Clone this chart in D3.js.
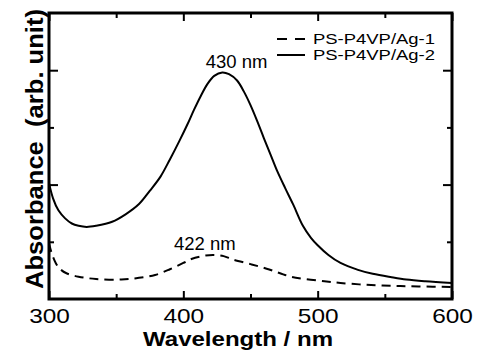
<!DOCTYPE html>
<html>
<head>
<meta charset="utf-8">
<script src="https://cdn.jsdelivr.net/npm/d3@7"></script>
<style>
  body { margin: 0; background: #fff; }
  svg { display: block; font-family: Arial, "Liberation Sans", sans-serif; }
</style>
</head>
<body>
<div id="chart"></div>
<script>
// Ag-1 (dashed) and Ag-2 (solid) absorbance
const wl1 = [300, 302, 305, 308, 313, 322, 335, 354, 367, 379, 390, 400, 406, 414, 422, 430, 437, 450, 462, 472, 480, 490, 505, 517, 535, 555, 575, 600];
const abs1 = [0.98, 0.80, 0.63, 0.53, 0.45, 0.39, 0.35, 0.34, 0.37, 0.42, 0.52, 0.63, 0.70, 0.75, 0.77, 0.75, 0.69, 0.61, 0.53, 0.45, 0.39, 0.35, 0.31, 0.28, 0.25, 0.23, 0.22, 0.21];

const wl2 = [300, 303, 307, 312, 317, 322, 328, 335, 347, 357, 367, 375, 383, 390, 397, 403, 408, 413, 418, 423, 429, 434, 440, 445, 450, 455, 460, 465, 470, 476, 482, 489, 495, 500, 508, 517, 530, 541, 555, 566, 580, 600];
const abs2 = [2.03, 1.76, 1.55, 1.41, 1.32, 1.28, 1.26, 1.28, 1.35, 1.48, 1.66, 1.89, 2.14, 2.44, 2.76, 3.05, 3.31, 3.55, 3.76, 3.90, 3.96, 3.93, 3.82, 3.63, 3.39, 3.11, 2.81, 2.52, 2.23, 1.93, 1.64, 1.28, 1.07, 0.94, 0.77, 0.63, 0.51, 0.44, 0.38, 0.34, 0.31, 0.28];

const xMajor = [300, 400, 500, 600];
const xMinor = [350, 450, 550];
const yMajor = [2, 4];
const yMinor = [1, 3];

const seriesNames = ["PS-P4VP/Ag-1", "PS-P4VP/Ag-2"];
const peakLabels = [
  { wl: 422, text: "422 nm" },
  { wl: 430, text: "430 nm" }
];

const margin = { top: 13, right: 31, bottom: 51, left: 49 };
const width = 483 - margin.left - margin.right;
const height = 350 - margin.top - margin.bottom;

const svgRoot = d3.select("#chart")
  .append("svg")
  .attr("width", 483)
  .attr("height", 350);

const svg = svgRoot.append("g")
  .attr("transform", `translate(${margin.left}, ${margin.top})`);

const x = d3.scaleLinear().domain([300, 600]).range([0, width]);
const y = d3.scaleLinear().domain([0, 5]).range([height, 0]);

// ticks point inward on all four sides
function addAxis(axis, vals, size, tx, labels) {
  const g = svg.append("g")
    .attr("transform", tx)
    .call(axis.tickValues(vals).tickSize(-size).tickPadding(10)
      .tickFormat(labels ? d3.format("d") : ""));
  g.select(".domain").remove();
  g.selectAll(".tick line").attr("stroke", "#000").attr("stroke-width", 2);
  return g;
}

const xb = addAxis(d3.axisBottom(x), xMajor, 8, `translate(0, ${height})`, true);
addAxis(d3.axisBottom(x), xMinor, 5, `translate(0, ${height})`, false);
addAxis(d3.axisTop(x), xMajor, 8, "translate(0, 0)", false);
addAxis(d3.axisTop(x), xMinor, 5, "translate(0, 0)", false);
addAxis(d3.axisLeft(y), yMajor, 9, "translate(0, 0)", false);
addAxis(d3.axisLeft(y), yMinor, 5, "translate(0, 0)", false);
addAxis(d3.axisRight(y), yMajor, 9, `translate(${width}, 0)`, false);
addAxis(d3.axisRight(y), yMinor, 5, `translate(${width}, 0)`, false);

xb.selectAll(".tick text")
  .attr("fill", "#000")
  .attr("font-size", 20)
  .attr("font-family", "Arial, 'Liberation Sans', sans-serif")
  .attr("transform", "scale(1.22, 1)");

svg.append("rect")
  .attr("width", width)
  .attr("height", height)
  .attr("fill", "none")
  .attr("stroke", "#000")
  .attr("stroke-width", 3);

const line = d3.line()
  .x((d) => x(d[0]))
  .y((d) => y(d[1]))
  .curve(d3.curveCatmullRom.alpha(0.5));

svg.append("path")
  .datum(d3.zip(wl1, abs1))
  .attr("d", line)
  .attr("fill", "none")
  .attr("stroke", "#000")
  .attr("stroke-width", 2)
  .attr("stroke-dasharray", "9,6");

svg.append("path")
  .datum(d3.zip(wl2, abs2))
  .attr("d", line)
  .attr("fill", "none")
  .attr("stroke", "#000")
  .attr("stroke-width", 2);

// peak annotations
const peakY = [250, 68];
const peakDx = [-8, 13];
peakLabels.forEach((p, i) => {
  svgRoot.append("text")
    .attr("x", margin.left + x(p.wl) + peakDx[i])
    .attr("y", peakY[i])
    .attr("text-anchor", "middle")
    .attr("font-size", 18.5)
    .text(p.text);
});

// legend
const legend = svgRoot.append("g");
seriesNames.forEach((name, i) => {
  const ly = 39 + i * 16;
  legend.append("line")
    .attr("x1", 277).attr("x2", 305)
    .attr("y1", ly).attr("y2", ly)
    .attr("stroke", "#000")
    .attr("stroke-width", 2)
    .attr("stroke-dasharray", i === 0 ? "10,8" : null);
  legend.append("text")
    .attr("x", 313)
    .attr("y", ly + 5)
    .attr("font-size", 15)
    .attr("textLength", 122)
    .attr("lengthAdjust", "spacingAndGlyphs")
    .text(name);
});

// axis titles
svgRoot.append("text")
  .attr("x", 238)
  .attr("y", 346)
  .attr("text-anchor", "middle")
  .attr("font-size", 20)
  .attr("font-weight", "bold")
  .attr("textLength", 190)
  .attr("lengthAdjust", "spacingAndGlyphs")
  .text("Wavelength / nm");

svgRoot.append("text")
  .attr("transform", "translate(43, 149) rotate(-90)")
  .attr("text-anchor", "middle")
  .attr("font-size", 24)
  .attr("font-weight", "bold")
  .attr("textLength", 280)
  .attr("lengthAdjust", "spacingAndGlyphs")
  .attr("xml:space", "preserve")
  .style("white-space", "pre")
  .text("Absorbance  (arb. unit)");
</script>
</body>
</html>
